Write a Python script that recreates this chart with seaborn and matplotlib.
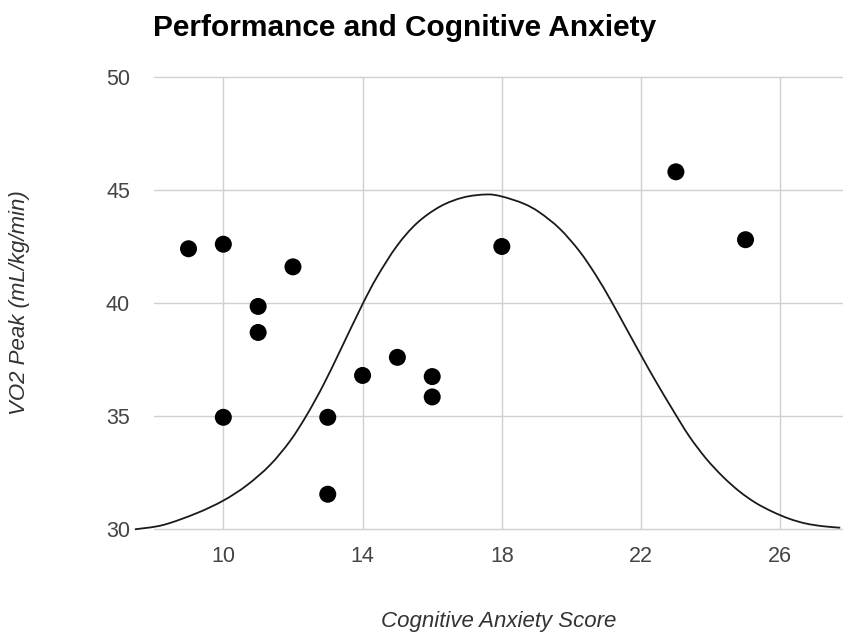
import matplotlib
matplotlib.use("Agg")
import matplotlib.pyplot as plt
from matplotlib.path import Path
from matplotlib.patches import PathPatch
import seaborn as sns
import pandas as pd

# Scatter observations: cognitive anxiety score vs VO2 peak
anxiety_scores = [9, 10, 10, 11, 11, 12, 13, 13, 14, 15, 16, 16, 18, 23, 25]
vo2_peak = [42.4, 42.6, 34.95, 39.85, 38.7, 41.6, 34.95, 31.55, 36.8, 37.6, 36.75, 35.85, 42.5, 45.8, 42.8]

# Inverted-U performance curve
curve_x = [7.46, 8.27, 9.23, 10.0, 10.67, 11.34, 11.92, 12.4, 12.88, 13.36,
           13.98, 14.41, 14.98, 15.56, 16.23, 16.9, 17.57, 18.0, 18.62, 19.08,
           19.66, 20.23, 20.71, 21.14, 21.57, 22.05, 22.43, 22.91, 23.38, 23.86,
           24.34, 24.82, 25.29, 25.77, 26.25, 26.72, 27.2, 27.72]
curve_y = [30.0, 30.19, 30.71, 31.27, 31.94, 32.84, 33.91, 35.06, 36.4, 37.91,
           39.89, 41.14, 42.51, 43.53, 44.27, 44.67, 44.8, 44.71, 44.4, 44.01,
           43.29, 42.29, 41.21, 40.09, 38.89, 37.55, 36.52, 35.28, 34.12, 33.14,
           32.34, 31.68, 31.17, 30.78, 30.47, 30.26, 30.14, 30.07]

x_ticks = [10, 14, 18, 22, 26]
y_ticks = [30, 35, 40, 45, 50]

title = "Performance and Cognitive Anxiety"
x_title = "Cognitive Anxiety Score"
y_title = "VO2 Peak (mL/kg/min)"

sns.set_style("white")
plt.rcParams["font.family"] = ["Liberation Sans", "DejaVu Sans"]

W, H = 843, 632
fig = plt.figure(figsize=(W / 100, H / 100), dpi=100)
left_px, right_px, top_px, bottom_px = 153.7, 843, 76.8, 529.3
ax = fig.add_axes([left_px / W, 1 - bottom_px / H,
                   (right_px - left_px) / W, (bottom_px - top_px) / H])

points = pd.DataFrame({"score": anxiety_scores, "vo2": vo2_peak})

sns.scatterplot(data=points, x="score", y="vo2", ax=ax, color="black",
                s=150, edgecolor="none", zorder=4)


def smooth_path(xs, ys, tension=1 / 6):
    """Catmull-Rom style cubic Bezier path through the given vertices."""
    verts = [(xs[0], ys[0])]
    codes = [Path.MOVETO]
    n = len(xs)
    for i in range(n - 1):
        x0, y0 = xs[max(i - 1, 0)], ys[max(i - 1, 0)]
        x1, y1 = xs[i], ys[i]
        x2, y2 = xs[i + 1], ys[i + 1]
        x3, y3 = xs[min(i + 2, n - 1)], ys[min(i + 2, n - 1)]
        c1 = (x1 + (x2 - x0) * tension, y1 + (y2 - y0) * tension)
        c2 = (x2 - (x3 - x1) * tension, y2 - (y3 - y1) * tension)
        verts += [c1, c2, (x2, y2)]
        codes += [Path.CURVE4] * 3
    return Path(verts, codes)


ax.add_patch(PathPatch(smooth_path(curve_x, curve_y), facecolor="none",
                       edgecolor="#1a1a1a", linewidth=1.3, clip_on=False,
                       zorder=3))

ax.set_xlim(8, 27.8)
ax.set_ylim(30, 50)
ax.set_xticks(x_ticks)
ax.set_yticks(y_ticks)
ax.grid(True, color="#d0d0d0", linewidth=1.0)
ax.set_axisbelow(True)
for gl in ax.get_ygridlines() + ax.get_xgridlines():
    gl.set_clip_on(False)
for s in ax.spines.values():
    s.set_visible(False)
ax.tick_params(axis="both", length=0, labelsize=15.5, labelcolor="#444444")
ax.tick_params(axis="y", pad=17)
ax.tick_params(axis="x", pad=12)
ax.set_xlabel("")
ax.set_ylabel("")

fig.text((left_px + right_px) / 2 / W, 1 - 621 / H, x_title, ha="center",
         va="center", fontsize=16, style="italic", color="#333333")
fig.text(20 / W, 1 - (top_px + bottom_px) / 2 / H, y_title, ha="center",
         va="center", rotation=90, fontsize=16, style="italic", color="#333333")
fig.text(153 / W, 1 - 28 / H, title, ha="left", va="center",
         fontsize=21.5, fontweight="bold", color="black")

fig.savefig("out.png", dpi=100, facecolor="white")
